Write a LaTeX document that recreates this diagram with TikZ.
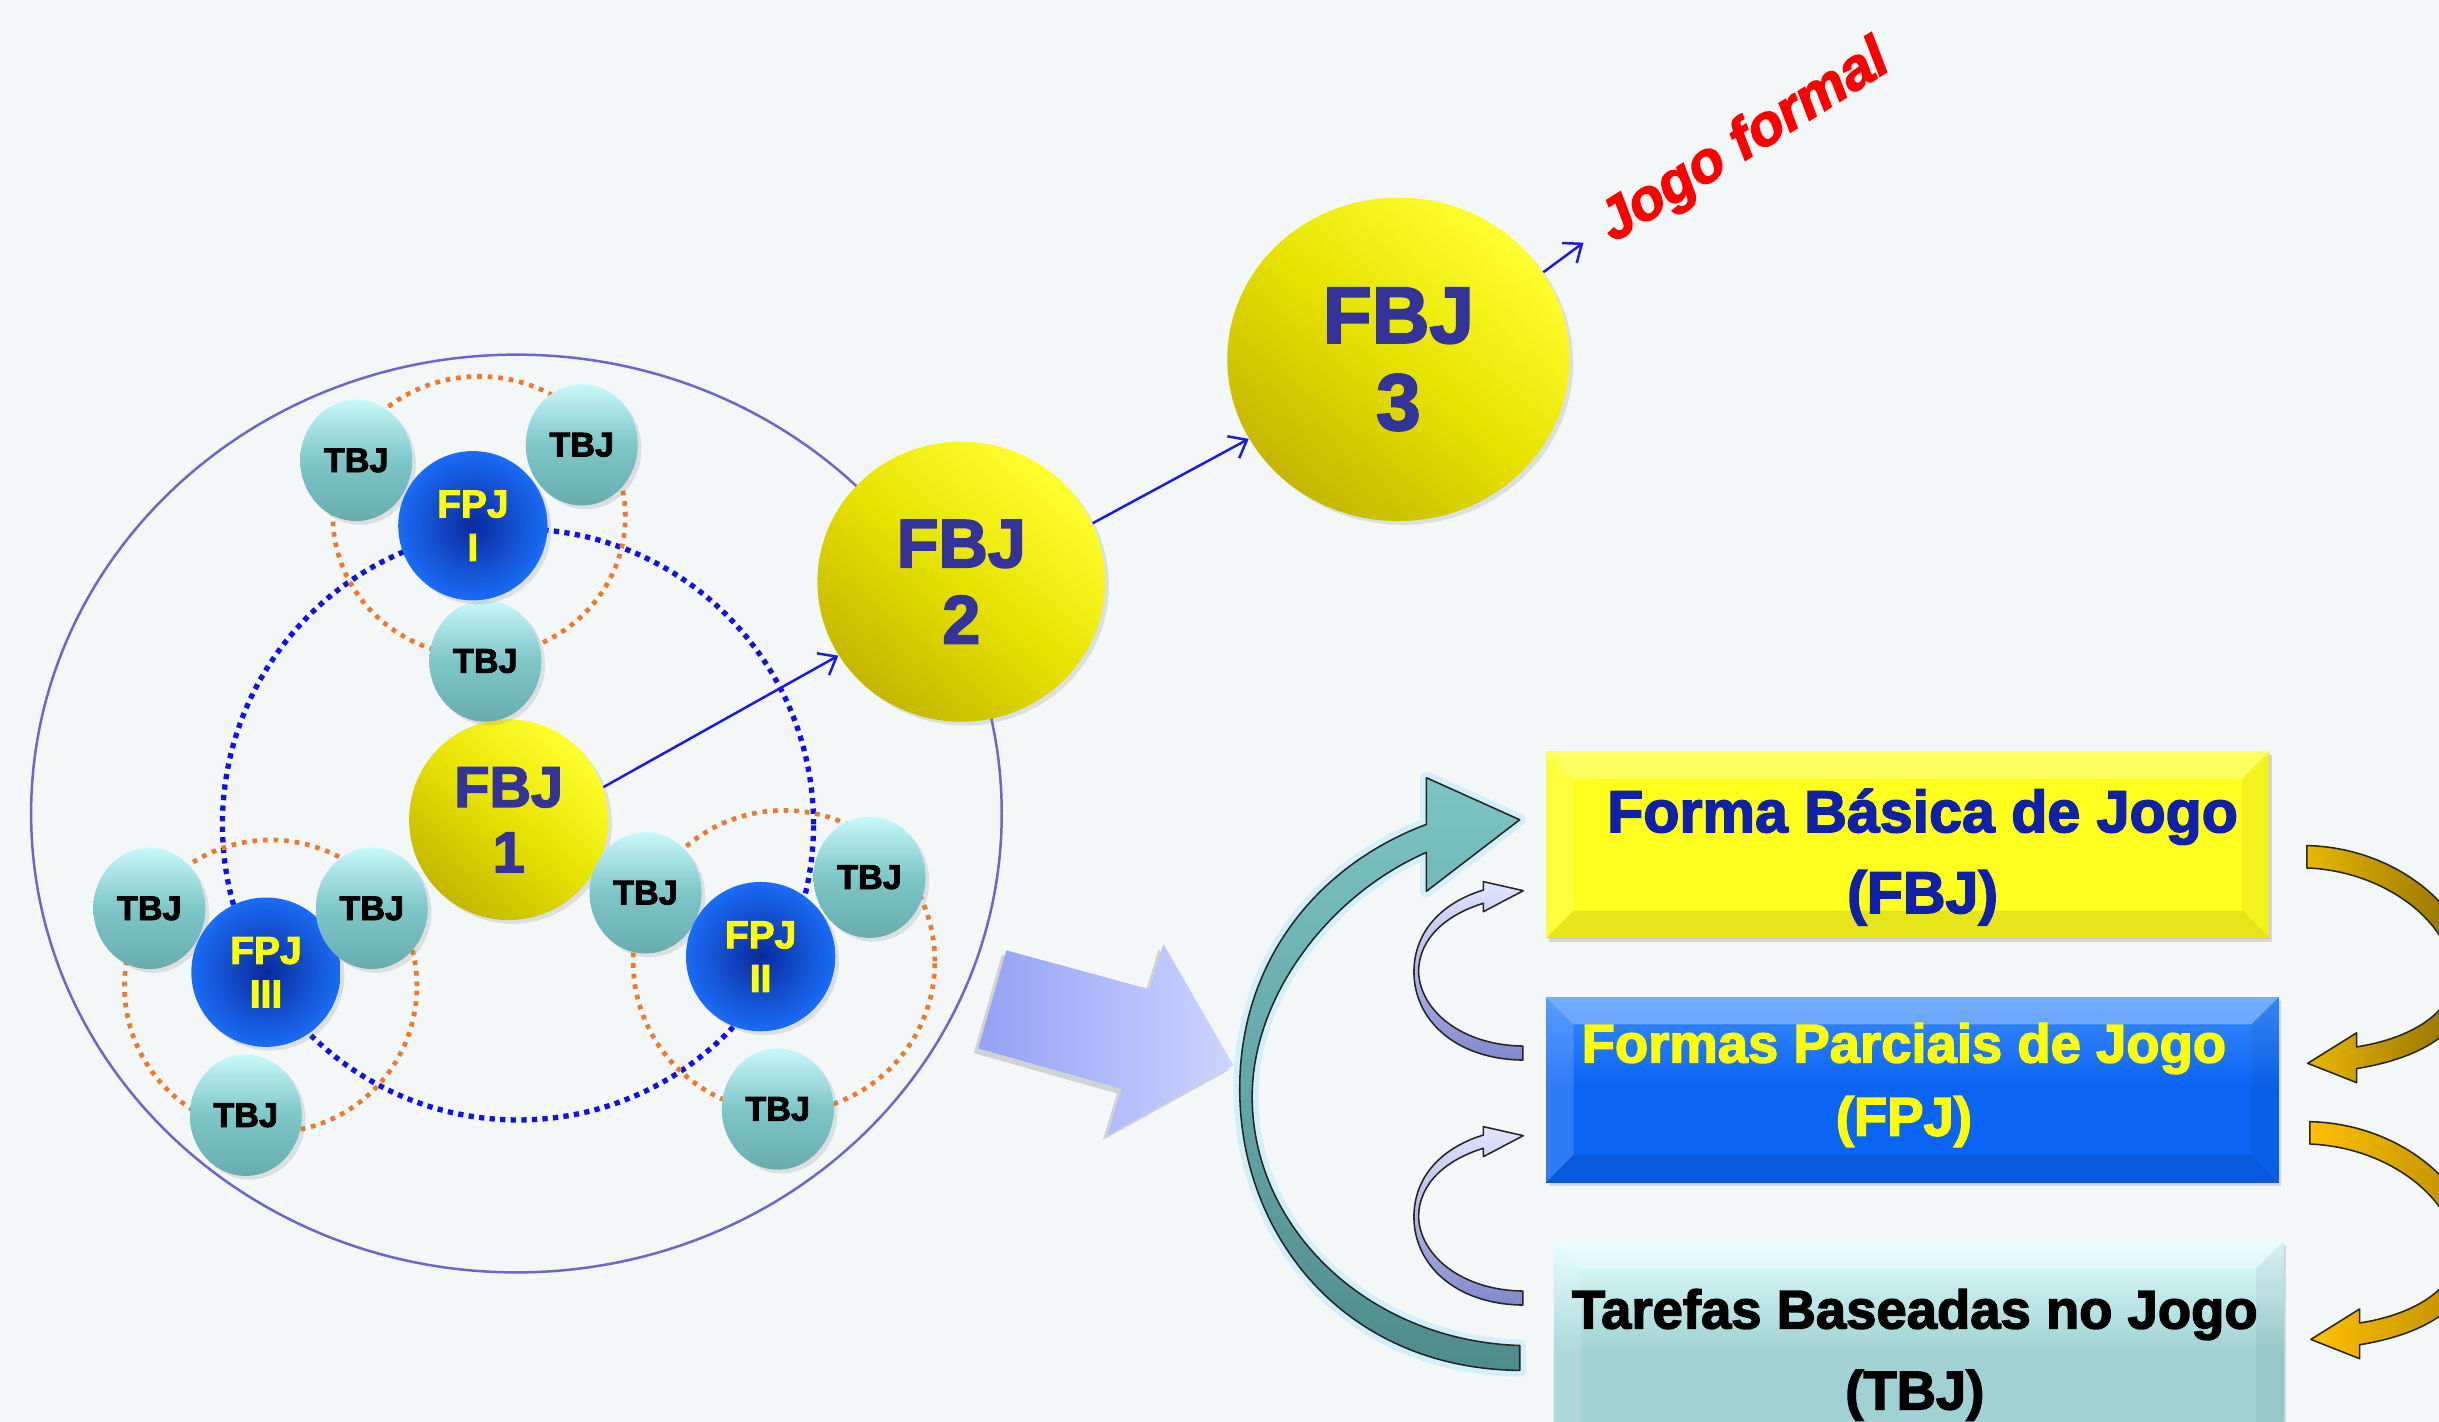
\documentclass[tikz,border=0pt]{standalone}
\usepackage{fontspec}
\setmainfont{Liberation Sans}
\newfontfamily\heavy{Liberation Sans}[BoldFeatures={FakeBold=2.6},BoldItalicFeatures={FakeBold=2.6}]
\usetikzlibrary{arrows.meta,calc,shapes.geometric,shadows}
\definecolor{bg}{HTML}{F3F7F8}
\definecolor{fbjtxt}{HTML}{333399}
\definecolor{ringc}{HTML}{6A66CC}
\definecolor{dotblue}{HTML}{1010E8}
\definecolor{dotorange}{HTML}{F07828}
\definecolor{arrblue}{HTML}{1A1AE6}
\definecolor{yhi}{HTML}{FFFF30}
\definecolor{ymid}{HTML}{E6E200}
\definecolor{ylo}{HTML}{C4B800}
\definecolor{bhi}{HTML}{1A6CF6}
\definecolor{blo}{HTML}{0A2A9C}
\definecolor{thi}{HTML}{C8F8FA}
\definecolor{tmid}{HTML}{7EC6C8}
\definecolor{tlo}{HTML}{68ACAE}
\definecolor{boxnavy}{HTML}{1020A8}
\definecolor{fpjyellow}{HTML}{FFFF00}
\definecolor{jogored}{HTML}{FF0000}
\definecolor{boxyellow}{HTML}{FFFF1E}
\definecolor{boxbluetop}{HTML}{3A8CFF}
\definecolor{boxblue}{HTML}{0A64F4}
\definecolor{boxtealtop}{HTML}{E2FFFF}
\definecolor{boxteal}{HTML}{A0D2D3}
\definecolor{tealdark}{HTML}{4E8C8C}
\definecolor{teallight}{HTML}{7CC4C6}
\definecolor{perilight}{HTML}{E0E5FF}
\definecolor{peridark}{HTML}{8088CC}
\definecolor{bigperiL}{HTML}{92A2F5}
\definecolor{bigperiR}{HTML}{CDD4FF}
\definecolor{goldL}{HTML}{E8B800}
\definecolor{goldR}{HTML}{8A6800}
\definecolor{goldL2}{HTML}{FFC000}
\definecolor{goldR2}{HTML}{B88A00}
\tikzset{
  ball/.style={ellipse, inner sep=0pt, align=center,
    drop shadow={opacity=0.2, shadow xshift=1.2pt, shadow yshift=-1.2pt}},
  yball/.style={ball, top color=yhi, bottom color=ylo, middle color=ymid, shading angle=-40, text=fbjtxt},
  bball/.style={ball, inner color=blo, outer color=bhi, text=fpjyellow,
    minimum width=48pt, minimum height=48pt,
    font=\heavy\bfseries\fontsize{12.5}{14}\selectfont},
  tball/.style={ball, top color=thi, bottom color=tlo, middle color=tmid, text=black,
    minimum width=36pt, minimum height=39pt,
    font=\heavy\bfseries\fontsize{11}{12}\selectfont},
  dotb/.style={draw=dotblue, line width=1.7pt, dash pattern=on 1.7pt off 1.7pt},
  doto/.style={draw=dotorange, line width=1.5pt, dash pattern=on 1.5pt off 1.9pt},
  thinarrow/.style={draw=arrblue, line width=0.8pt, -{Straight Barb[length=5pt,width=8pt]}},
  boxshape/.style={rectangle, inner sep=0pt,
    drop shadow={opacity=0.25, shadow xshift=0.8pt, shadow yshift=-1.2pt}},
  boxtext/.style={align=center, font=\heavy\bfseries},
  blockarrow/.style={draw=black!85, line width=0.5pt, line join=round},
}
\newcommand\mybevel[2]{%
  \fill[white, opacity=0.30] (#1.north west) -- (#1.north east) -- ($(#1.north east)+(-#2,-#2)$) -- ($(#1.north west)+(#2,-#2)$) -- cycle;
  \fill[white, opacity=0.15] (#1.north west) -- (#1.south west) -- ($(#1.south west)+(#2,#2)$) -- ($(#1.north west)+(#2,-#2)$) -- cycle;
  \fill[black, opacity=0.05] (#1.north east) -- (#1.south east) -- ($(#1.south east)+(-#2,#2)$) -- ($(#1.north east)+(-#2,-#2)$) -- cycle;
  \fill[black, opacity=0.10] (#1.south west) -- (#1.south east) -- ($(#1.south east)+(-#2,#2)$) -- ($(#1.south west)+(#2,#2)$) -- cycle;
}
\begin{document}
\begin{tikzpicture}[x=0.5pt, y=-0.5pt]
\useasboundingbox (0,0) rectangle (1568,914);
\clip (0,0) rectangle (1568,914);
\fill[bg] (0,0) rectangle (1568,914);

% ---------- left cluster ----------
\draw[ringc, line width=0.8pt] (332,523) ellipse [x radius=156pt, y radius=147.5pt];
\draw[dotb] (333,530) circle [radius=95pt];
\draw[doto] (308,332) ellipse [x radius=47pt, y radius=45pt];
\draw[doto] (174,634) circle [radius=47pt];
\draw[doto] (504,618) circle [radius=48.5pt];

\node[yball, minimum width=64pt, minimum height=64.5pt,
      font=\heavy\bfseries\fontsize{18.5}{21}\selectfont] (fbj1) at (327,527) {FBJ\\1};

\node[tball] (t1) at (229,296) {TBJ};
\node[tball] (t2) at (374,286) {TBJ};
\node[tball] (t3) at (312,425) {TBJ};
\node[tball] (t4) at (96,584) {TBJ};
\node[tball] (t6) at (158,717) {TBJ};
\node[tball] (t7) at (415,574) {TBJ};
\node[tball] (t8) at (559,564) {TBJ};
\node[tball] (t9) at (500,713) {TBJ};

\node[bball] (f1) at (304,338) {FPJ\\I};
\node[bball] (f2) at (489,615) {FPJ\\II};
\node[bball] (f3) at (171,625) {FPJ\\III};
\node[tball] (t5) at (239,584) {TBJ};

\node[yball, minimum width=92.5pt, minimum height=90pt,
      font=\heavy\bfseries\fontsize{22}{24.5}\selectfont] (fbj2) at (618,374) {FBJ\\2};
\node[yball, minimum width=110pt, minimum height=104pt,
      font=\heavy\bfseries\fontsize{25.7}{28}\selectfont] (fbj3) at (899,231) {FBJ\\3};

\draw[thinarrow] (fbj1.19) -- (fbj2.211);
\draw[thinarrow] (fbj2.24) -- (fbj3.208);
\coordinate (jf) at (1018,156);
\draw[thinarrow] (fbj3.31) -- (jf);
\node[rotate=32, anchor=base, text=jogored,
      font=\heavy\bfseries\itshape\fontsize{18.5}{20}\selectfont] (jogo) at (1127,100) {Jogo formal};

% ---------- big block arrow ----------
\path[left color=bigperiL, right color=bigperiR,
      drop shadow={opacity=0.3, shadow xshift=-1.5pt, shadow yshift=-1.5pt}]
  (647,611) -- (739,636) -- (748,607) -- (793,685) -- (712,730) -- (721,700) -- (629,674) -- cycle;

% ---------- boxes ----------
\node[boxshape, fill=boxyellow, minimum width=232.5pt, minimum height=60pt] (bfbj) at (1226.5,543) {};
\mybevel{bfbj}{9pt}
\node[boxshape, top color=boxbluetop, bottom color=boxblue, middle color=boxblue,
      minimum width=235.5pt, minimum height=59.5pt] (bfpj) at (1229.5,700.5) {};
\mybevel{bfpj}{9pt}
\node[boxshape, top color=boxtealtop, bottom color=boxteal, middle color=boxteal,
      minimum width=234.5pt, minimum height=71pt] (btbj) at (1233.5,869) {};
\mybevel{btbj}{9pt}

\node[boxtext, text=boxnavy, font=\heavy\bfseries\fontsize{19}{26}\selectfont] (tfbj) at (1236,551)
  {Forma Básica de Jogo\\(FBJ)};
\node[boxtext, text=fpjyellow, font=\heavy\bfseries\fontsize{17.5}{23.5}\selectfont] (tfpj) at (1224,697.5)
  {Formas Parciais de Jogo\\(FPJ)};
\node[boxtext, text=black, font=\heavy\bfseries\fontsize{17.5}{26}\selectfont] (ttbj) at (1231,871)
  {Tarefas Baseadas no Jogo\\(TBJ)};

% ---------- big teal curved arrow ----------
\path[draw=cyan!25, line width=4pt, opacity=0.6, line join=round]
  (977,881) .. controls (865,880) and (797,795) .. (797,700)
  .. controls (797,615) and (850,555) .. (917,530)
  -- (917,500) -- (977,527) -- (917,573) -- (917,548)
  .. controls (855,575) and (805,640) .. (805,705)
  .. controls (805,790) and (880,862) .. (977,865) -- cycle;
\path[blockarrow, top color=teallight, bottom color=tealdark]
  (977,881) .. controls (865,880) and (797,795) .. (797,700)
  .. controls (797,615) and (850,555) .. (917,530)
  -- (917,500) -- (977,527) -- (917,573) -- (917,548)
  .. controls (855,575) and (805,640) .. (805,705)
  .. controls (805,790) and (880,862) .. (977,865) -- cycle;

% ---------- small periwinkle curved arrows ----------
\foreach \dy in {0,157.5}{
\begin{scope}[shift={(0,\dy)}]
\path[blockarrow, top color=perilight, bottom color=peridark]
  (979,681.5) .. controls (935,681) and (909,655) .. (909,625)
  .. controls (909,598) and (928,580) .. (953.6,572.2)
  -- (953.6,566.8) -- (979.3,572.6) -- (953.6,586.1) -- (953.6,580.7)
  .. controls (930,588) and (912,603) .. (912,625)
  .. controls (913,650) and (940,672) .. (979,672.5) -- cycle;
\end{scope}}

% ---------- gold curved arrows ----------
\path[blockarrow, left color=goldL, right color=goldR]
  (1483,543.6) .. controls (1545,545) and (1592,590) .. (1590,630)
  .. controls (1587,662) and (1558,680) .. (1515,687)
  -- (1515,696) -- (1483.6,683.6) -- (1515,664) -- (1515,673)
  .. controls (1548,668) and (1577,652) .. (1577,628)
  .. controls (1577,595) and (1535,560) .. (1483,558) -- cycle;
\begin{scope}[shift={(2,177.5)}]
\path[blockarrow, left color=goldL2, right color=goldR2]
  (1483,543.6) .. controls (1545,545) and (1592,590) .. (1590,630)
  .. controls (1587,662) and (1558,680) .. (1515,687)
  -- (1515,696) -- (1483.6,683.6) -- (1515,664) -- (1515,673)
  .. controls (1548,668) and (1577,652) .. (1577,628)
  .. controls (1577,595) and (1535,560) .. (1483,558) -- cycle;
\end{scope}
\end{tikzpicture}
\end{document}
